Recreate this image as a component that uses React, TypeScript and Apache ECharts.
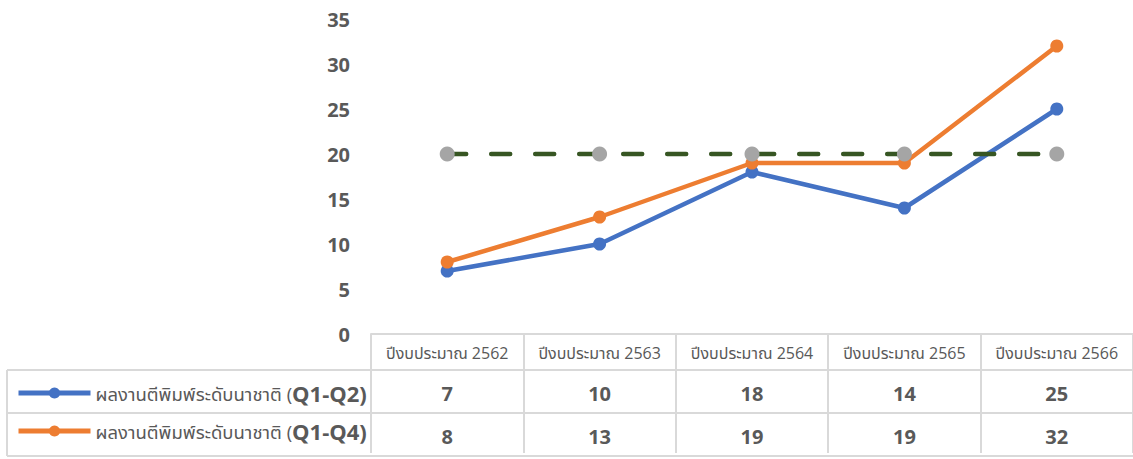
import React, { useEffect, useRef } from "react";
import * as echarts from "echarts";

const categories = [
  "ปีงบประมาณ 2562",
  "ปีงบประมาณ 2563",
  "ปีงบประมาณ 2564",
  "ปีงบประมาณ 2565",
  "ปีงบประมาณ 2566",
];
const seriesNames = [
  "ผลงานตีพิมพ์ระดับนาชาติ (Q1-Q2)",
  "ผลงานตีพิมพ์ระดับนาชาติ (Q1-Q4)",
  "เป้าหมาย",
];
const q1q2 = [7, 10, 18, 14, 25];
const q1q4 = [8, 13, 19, 19, 32];
const target = [20, 20, 20, 20, 20];
const yTicks = { min: 0, max: 35, interval: 5 };

const FONT = "'Open Sans', 'Noto Sans', 'Noto Sans Thai', Tahoma, sans-serif";
const GRAY = "#595959";
const BORDER = "#D9D9D9";

export default function App() {
  const ref = useRef<HTMLDivElement>(null);
  useEffect(() => {
    const chart = echarts.init(ref.current!, null, { renderer: "svg" });
    const border = { stroke: BORDER, lineWidth: 2 };
    chart.setOption({
      animation: false,
      textStyle: { fontFamily: FONT },
      grid: { left: 371, width: 767, top: 19, bottom: 125, containLabel: false },
      legend: {
        data: [seriesNames[0], seriesNames[1]],
        orient: "vertical",
        left: 11,
        top: 377,
        itemWidth: 72,
        itemHeight: 14,
        itemGap: 16,
        lineStyle: { width: 5 },
        formatter: (name: string) => {
          const i = name.indexOf("(");
          return `{a|${name.slice(0, i + 1)}}{b|${name.slice(i + 1)}}`;
        },
        textStyle: {
          rich: {
            a: { fontSize: 18.5, color: GRAY, fontFamily: FONT },
            b: { fontSize: 22, fontWeight: "bold", color: GRAY, fontFamily: FONT },
          },
        },
      },
      xAxis: [
        {
          type: "category",
          data: categories,
          position: "bottom",
          offset: 3,
          boundaryGap: true,
          axisLine: { show: true, lineStyle: { color: BORDER, width: 2 } },
          axisTick: { show: true, interval: 0, length: 119, lineStyle: { color: BORDER, width: 2 } },
          axisLabel: { interval: 0, margin: 8, fontSize: 16, color: GRAY },
          splitLine: { show: false },
        },
        {
          type: "category",
          data: q1q2.map(String),
          position: "bottom",
          offset: 3,
          axisLine: { show: false },
          axisTick: { show: false },
          axisLabel: { interval: 0, margin: 46, fontSize: 20, fontWeight: "bold", color: GRAY },
        },
        {
          type: "category",
          data: q1q4.map(String),
          position: "bottom",
          offset: 3,
          axisLine: { show: false },
          axisTick: { show: false },
          axisLabel: { interval: 0, margin: 89, fontSize: 20, fontWeight: "bold", color: GRAY },
        },
      ],
      yAxis: {
        type: "value",
        min: yTicks.min,
        max: yTicks.max,
        interval: yTicks.interval,
        axisLine: { show: false },
        axisTick: { show: false },
        splitLine: { show: false },
        axisLabel: { margin: 21, fontSize: 20, fontWeight: "bold", color: GRAY },
      },
      series: [
        {
          name: seriesNames[0],
          type: "line",
          data: q1q2,
          symbol: "circle",
          symbolSize: 13,
          lineStyle: { color: "#4472C4", width: 4.5 },
          itemStyle: { color: "#4472C4" },
        },
        {
          name: seriesNames[1],
          type: "line",
          data: q1q4,
          symbol: "circle",
          symbolSize: 13,
          lineStyle: { color: "#ED7D31", width: 4.5 },
          itemStyle: { color: "#ED7D31" },
        },
        {
          name: seriesNames[2],
          type: "line",
          data: target,
          symbol: "circle",
          symbolSize: 15,
          lineStyle: { color: "#375623", width: 4.5, type: [19, 25], cap: "round" },
          itemStyle: { color: "#A5A5A5" },
        },
      ],
      graphic: [
        { type: "line", shape: { x1: 7, y1: 370, x2: 1133, y2: 370 }, style: border },
        { type: "line", shape: { x1: 7, y1: 413, x2: 1133, y2: 413 }, style: border },
        { type: "line", shape: { x1: 7, y1: 456, x2: 1133, y2: 456 }, style: border },
        { type: "line", shape: { x1: 7, y1: 370, x2: 7, y2: 456 }, style: border },
      ],
    });
    return () => chart.dispose();
  }, []);
  return (
    <div
      ref={ref}
      style={{ position: "absolute", left: 0, top: 0, width: 1133, height: 459, background: "#fff" }}
    />
  );
}
